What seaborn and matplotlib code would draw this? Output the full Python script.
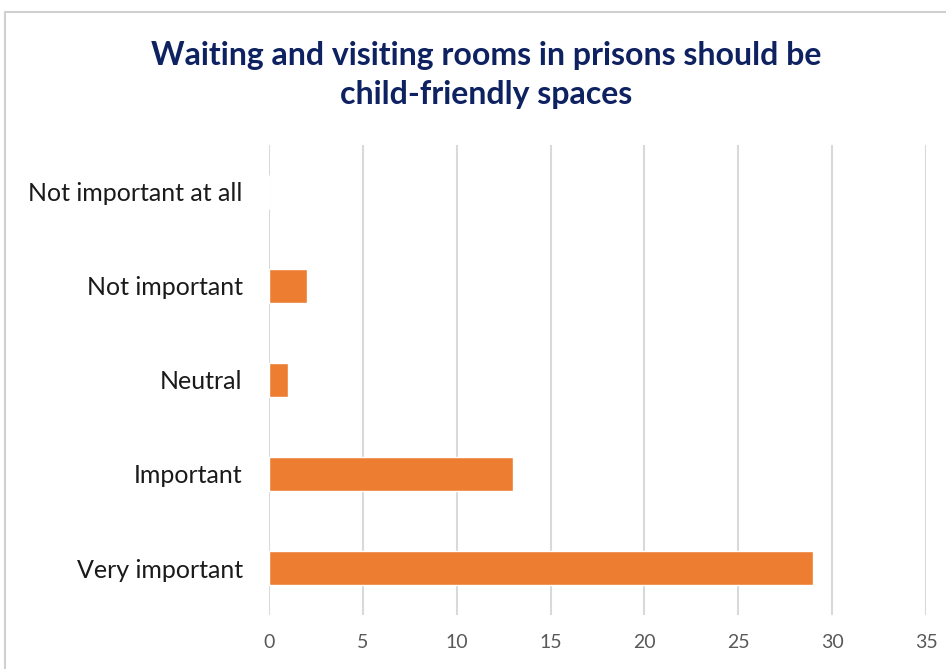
import matplotlib.pyplot as plt
import seaborn as sns
import pandas as pd
from matplotlib.lines import Line2D

# data
categories = ['Not important at all', 'Not important', 'Neutral', 'Important', 'Very important']
counts = [0, 2, 1, 13, 29]
x_ticks = [0, 5, 10, 15, 20, 25, 30, 35]

df = pd.DataFrame({'answer': categories, 'count': counts})

sns.set_theme(style="white")
plt.rcParams['font.family'] = ['Lato', 'DejaVu Sans']

fig = plt.figure(figsize=(9.46, 6.69), dpi=100)
ax = fig.add_axes([0.2844, 0.0807, 0.6945, 0.7026])

sns.barplot(data=df, x='count', y='answer', order=categories, color='#ED7D31',
            saturation=1, width=0.36, orient='h', ax=ax)

ax.set_xlim(0, 35)
ax.set_ylim(4.5, -0.5)
ax.set_xticks(x_ticks)
ax.xaxis.grid(True, color='#d9d9d9', linewidth=1.5)
ax.set_axisbelow(True)
for s in ax.spines.values():
    s.set_visible(False)
ax.set_xlabel('')
ax.set_ylabel('')
ax.tick_params(axis='y', length=0, pad=19, labelsize=18, labelcolor='#1a1a1a')
ax.tick_params(axis='x', length=0, pad=14, labelsize=14, labelcolor='#595959')

fig.text(0.514, 0.938, 'Waiting and visiting rooms in prisons should be\nchild-friendly spaces',
         ha='center', va='top', fontsize=23, fontweight='bold', color='#0e2160',
         linespacing=1.4)

# outer chart border (top and left edges visible)
fig.add_artist(Line2D([5/946, 1], [1 - 12/669, 1 - 12/669], color='#d0d0d0', linewidth=1.5))
fig.add_artist(Line2D([5/946, 5/946], [0, 1 - 12/669], color='#d0d0d0', linewidth=1.5))

plt.savefig('out.png', dpi=100)
